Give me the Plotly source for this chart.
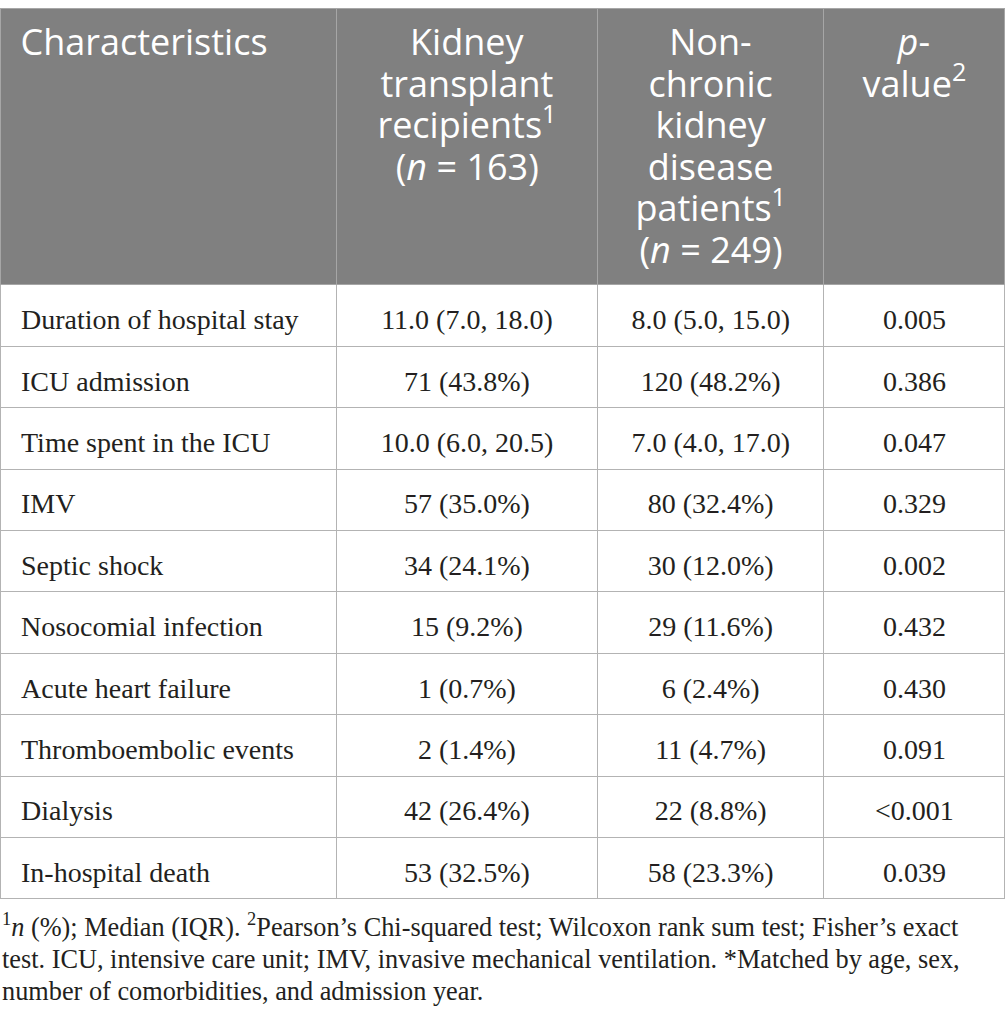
import re
import plotly.graph_objects as go

characteristics = ["Duration of hospital stay", "ICU admission", "Time spent in the ICU", "IMV",
                   "Septic shock", "Nosocomial infection", "Acute heart failure",
                   "Thromboembolic events", "Dialysis", "In-hospital death"]
ktr = ["11.0 (7.0, 18.0)", "71 (43.8%)", "10.0 (6.0, 20.5)", "57 (35.0%)", "34 (24.1%)",
       "15 (9.2%)", "1 (0.7%)", "2 (1.4%)", "42 (26.4%)", "53 (32.5%)"]
non_ckd = ["8.0 (5.0, 15.0)", "120 (48.2%)", "7.0 (4.0, 17.0)", "80 (32.4%)", "30 (12.0%)",
           "29 (11.6%)", "6 (2.4%)", "11 (4.7%)", "22 (8.8%)", "58 (23.3%)"]
p_values = ["0.005", "0.386", "0.047", "0.329", "0.002", "0.432", "0.430", "0.091",
            "&lt;0.001", "0.039"]

header_lines = [["Characteristics"],
                ["Kidney", "transplant", "recipients<sup>1</sup>", "(<i>n</i> = 163)"],
                ["Non-", "chronic", "kidney", "disease", "patients<sup>1</sup>", "(<i>n</i> = 249)"],
                ["<i>p</i>-", "value<sup>2</sup>"]]

footnote_lines = ["<sup>1</sup><i>n</i> (%); Median (IQR). <sup>2</sup>Pearson’s Chi-squared test; "
                  "Wilcoxon rank sum test; Fisher’s exact",
                  "test. ICU, intensive care unit; IMV, invasive mechanical ventilation. "
                  "*Matched by age, sex,",
                  "number of comorbidities, and admission year."]

HEAD_PX = 36
BODY_PX = 28

# rough Open Sans advance widths (em), used to centre header lines:
# plotly tables centre the text block but keep its lines left aligned
OPEN_SANS = {" ": .26, "a": .556, "b": .613, "c": .476, "d": .613, "e": .561, "h": .614,
             "i": .253, "k": .525, "l": .253, "n": .614, "o": .604, "p": .613, "r": .408,
             "s": .477, "t": .353, "u": .614, "v": .501, "y": .501, "C": .633, "K": .617,
             "N": .762, "(": .266, ")": .266, "=": .572, "-": .322}


def text_width(line, px):
    w = 0
    for part in re.split(r"(<sup>.*?</sup>)", line):
        scale = 0.7 if part.startswith("<sup>") else 1.0
        for ch in re.sub(r"<[^>]+>", "", part):
            w += OPEN_SANS.get(ch, .572) * px * scale
    return w


def span(txt, px):
    return f'<span style="font-size:{px:.2f}px">{txt}</span>'


def space(width, px, em):
    # a run of non-breaking spaces of about the given width, no glyph bigger than px
    full = int(width // (em * px))
    out = span("&nbsp;" * full, px) if full else ""
    rest = width - full * em * px
    if rest > 0.3:
        out += span("&nbsp;", rest / em)
    return out


# lines are spaced at 1.3em of the base font (8px -> 4 breaks ~ 41.6px);
# the trailing <br> stops plotly from re-wrapping the markup at spaces
def header_text(lines, centre):
    widest = max(text_width(s, HEAD_PX) for s in lines)
    out = []
    for s in lines:
        pad = (widest - text_width(s, HEAD_PX)) / 2 if centre else 12.5
        out.append(space(pad, HEAD_PX, .26) + span(s, HEAD_PX))
    return "<br><br><br><br>".join(out) + "<br>"


# a blank first line pushes the value down to the middle of the row
def cell_text(txt, indent=False):
    lead = space(13, 26, .25) if indent else ""
    return "&nbsp;<br>" + lead + span(txt, BODY_PX)


headers = [header_text(h, i > 0) for i, h in enumerate(header_lines)]
cols = [[cell_text(c, True) for c in characteristics],
        [cell_text(c) for c in ktr],
        [cell_text(c) for c in non_ckd],
        [cell_text(c) for c in p_values]]

fig = go.Figure(go.Table(
    columnwidth=[336, 261, 226, 181],
    header=dict(values=headers,
                fill_color="#808080",
                line=dict(color="#a6a6a6", width=1),
                align=["left", "center", "center", "center"],
                font=dict(family="Open Sans", size=8, color="white"),
                height=276),
    cells=dict(values=cols,
               fill_color="white",
               line=dict(color="#b3b3b3", width=1),
               align=["left", "center", "center", "center"],
               font=dict(family="Liberation Serif", size=16.4, color="#231f20"),
               height=61.4),
    domain=dict(x=[0, 1], y=[0.1, 0.9913]),
))

fig.add_annotation(text="<br>".join(span(s, 26.3) for s in footnote_lines),
                   xref="paper", yref="paper", x=0, y=0.119,
                   xanchor="left", yanchor="top", align="left", showarrow=False,
                   font=dict(family="Liberation Serif", size=24.6, color="#231f20"))

fig.update_layout(width=1005, height=1030, margin=dict(l=0, r=0, t=0, b=0),
                  paper_bgcolor="white")

fig.write_html("out.html", config={"displayModeBar": False},
               post_script="document.body.style.margin = '0';")
